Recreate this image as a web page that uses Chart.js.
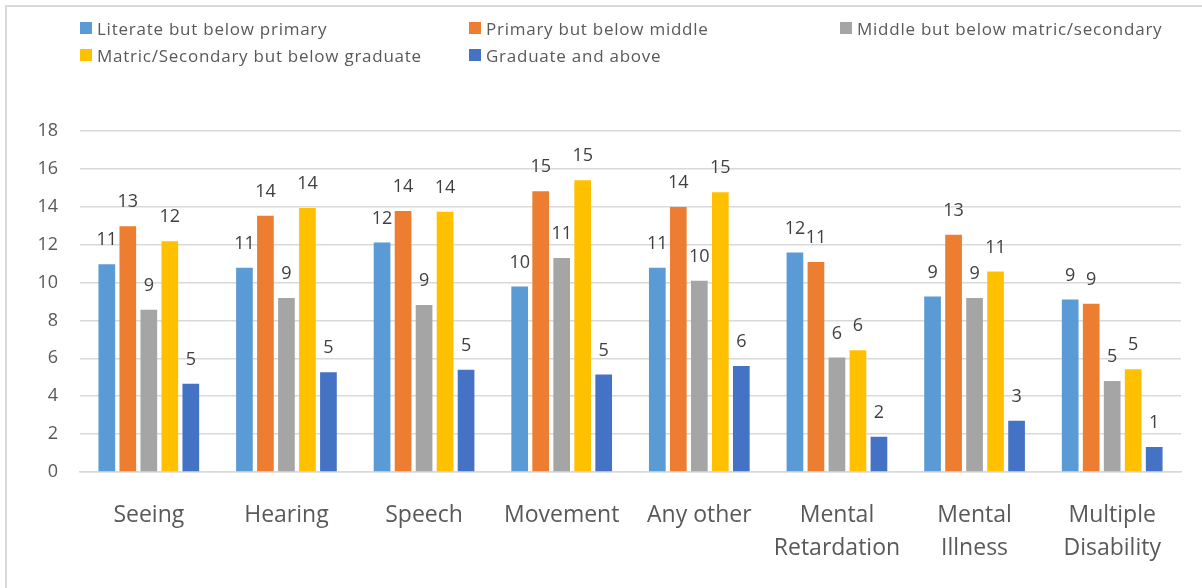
<!DOCTYPE html>
<html>
<head>
<meta charset="utf-8">
<script src="https://cdn.jsdelivr.net/npm/chart.js@4"></script>
<style>
  html, body { margin: 0; padding: 0; background: #fff; }
  #wrap { position: relative; width: 1202px; height: 588px; overflow: hidden; font-family: 'Open Sans', sans-serif; }
  #frame { position: absolute; left: 5px; top: 5px; width: 1300px; height: 700px; border: 2px solid #d9d9d9; box-sizing: border-box; }
  #chartBox { position: absolute; left: 0; top: 0; width: 1202px; height: 588px; }
  #legend { position: absolute; left: 0; top: 0; width: 1202px; height: 70px; }
  .li { position: absolute; display: flex; align-items: center; font-size: 17px; letter-spacing: 0.75px; color: #595959; white-space: nowrap; }
  .sw { width: 12px; height: 12px; margin-right: 5px; }
</style>
</head>
<body>
<div id="wrap">
  <div id="frame"></div>
  <div id="chartBox"><canvas id="c" width="1202" height="588"></canvas></div>
  <div id="legend"></div>
</div>
<script>
const categories = ['Seeing', 'Hearing', 'Speech', 'Movement', 'Any other', ['Mental', 'Retardation'], ['Mental', 'Illness'], ['Multiple', 'Disability']];
const seriesNames = ['Literate but below primary', 'Primary but below middle', 'Middle but below matric/secondary', 'Matric/Secondary but below graduate', 'Graduate and above'];
const literateBelowPrimary = [10.97, 10.78, 12.11, 9.79, 10.78, 11.58, 9.26, 9.10];
const primaryBelowMiddle = [12.97, 13.52, 13.78, 14.82, 13.99, 11.09, 12.52, 8.88];
const middleBelowMatric = [8.56, 9.19, 8.81, 11.30, 10.10, 6.05, 9.18, 4.80];
const matricBelowGraduate = [12.18, 13.94, 13.74, 15.40, 14.77, 6.43, 10.58, 5.43];
const graduateAndAbove = [4.66, 5.27, 5.40, 5.15, 5.59, 1.86, 2.71, 1.32];
const yTicks = [0, 2, 4, 6, 8, 10, 12, 14, 16, 18];
const colors = ['#5B9BD5', '#ED7D31', '#A5A5A5', '#FFC000', '#4472C4'];

const seriesValues = [literateBelowPrimary, primaryBelowMiddle, middleBelowMatric, matricBelowGraduate, graduateAndAbove];

// legend (grid like the original)
const legendPos = [[80, 28], [469, 28], [840, 28], [80, 55], [469, 55]];
const legendEl = document.getElementById('legend');
seriesNames.forEach((n, i) => {
  const d = document.createElement('div');
  d.className = 'li';
  d.style.left = legendPos[i][0] + 'px';
  d.style.top = (legendPos[i][1] - 12) + 'px';
  d.style.height = '24px';
  d.innerHTML = '<span class="sw" style="background:' + colors[i] + '"></span><span>' + n + '</span>';
  legendEl.appendChild(d);
});

const dataLabels = {
  id: 'dataLabels',
  afterDatasetsDraw(chart) {
    const ctx = chart.ctx;
    ctx.save();
    ctx.font = '18px "Open Sans"';
    ctx.fillStyle = '#404040';
    ctx.textAlign = 'center';
    ctx.textBaseline = 'middle';
    chart.data.datasets.forEach((ds, di) => {
      chart.getDatasetMeta(di).data.forEach((bar, i) => {
        ctx.fillText(String(Math.round(ds.data[i])), bar.x, bar.y - 24);
      });
    });
    ctx.restore();
  }
};

new Chart(document.getElementById('c'), {
  type: 'bar',
  data: {
    labels: categories,
    datasets: seriesNames.map((n, i) => ({
      label: n,
      data: seriesValues[i],
      backgroundColor: colors[i],
      borderWidth: 0,
      categoryPercentage: 0.763,
      barPercentage: 0.795
    }))
  },
  options: {
    responsive: false,
    animation: false,
    devicePixelRatio: 1,
    layout: { padding: { left: 20, right: 21, top: 131, bottom: 0 } },
    plugins: { legend: { display: false }, tooltip: { enabled: false }, title: { display: false } },
    scales: {
      x: {
        grid: { display: false, drawTicks: false },
        border: { display: true, color: '#d9d9d9', width: 1.5 },
        ticks: { color: '#595959', font: { family: 'Open Sans', size: 23, lineHeight: 1.435 }, padding: 27, maxRotation: 0, autoSkip: false },
        afterFit(s) { s.height = 116; }
      },
      y: {
        min: 0, max: 18,
        afterBuildTicks(s) { s.ticks = yTicks.map(v => ({ value: v })); },
        grid: { color: '#d9d9d9', lineWidth: 1.5, drawTicks: false },
        border: { display: false },
        ticks: { color: '#595959', font: { family: 'Open Sans', size: 18 }, padding: 22 },
        afterFit(s) { s.width = 60; }
      }
    }
  },
  plugins: [dataLabels]
});
</script>
</body>
</html>
